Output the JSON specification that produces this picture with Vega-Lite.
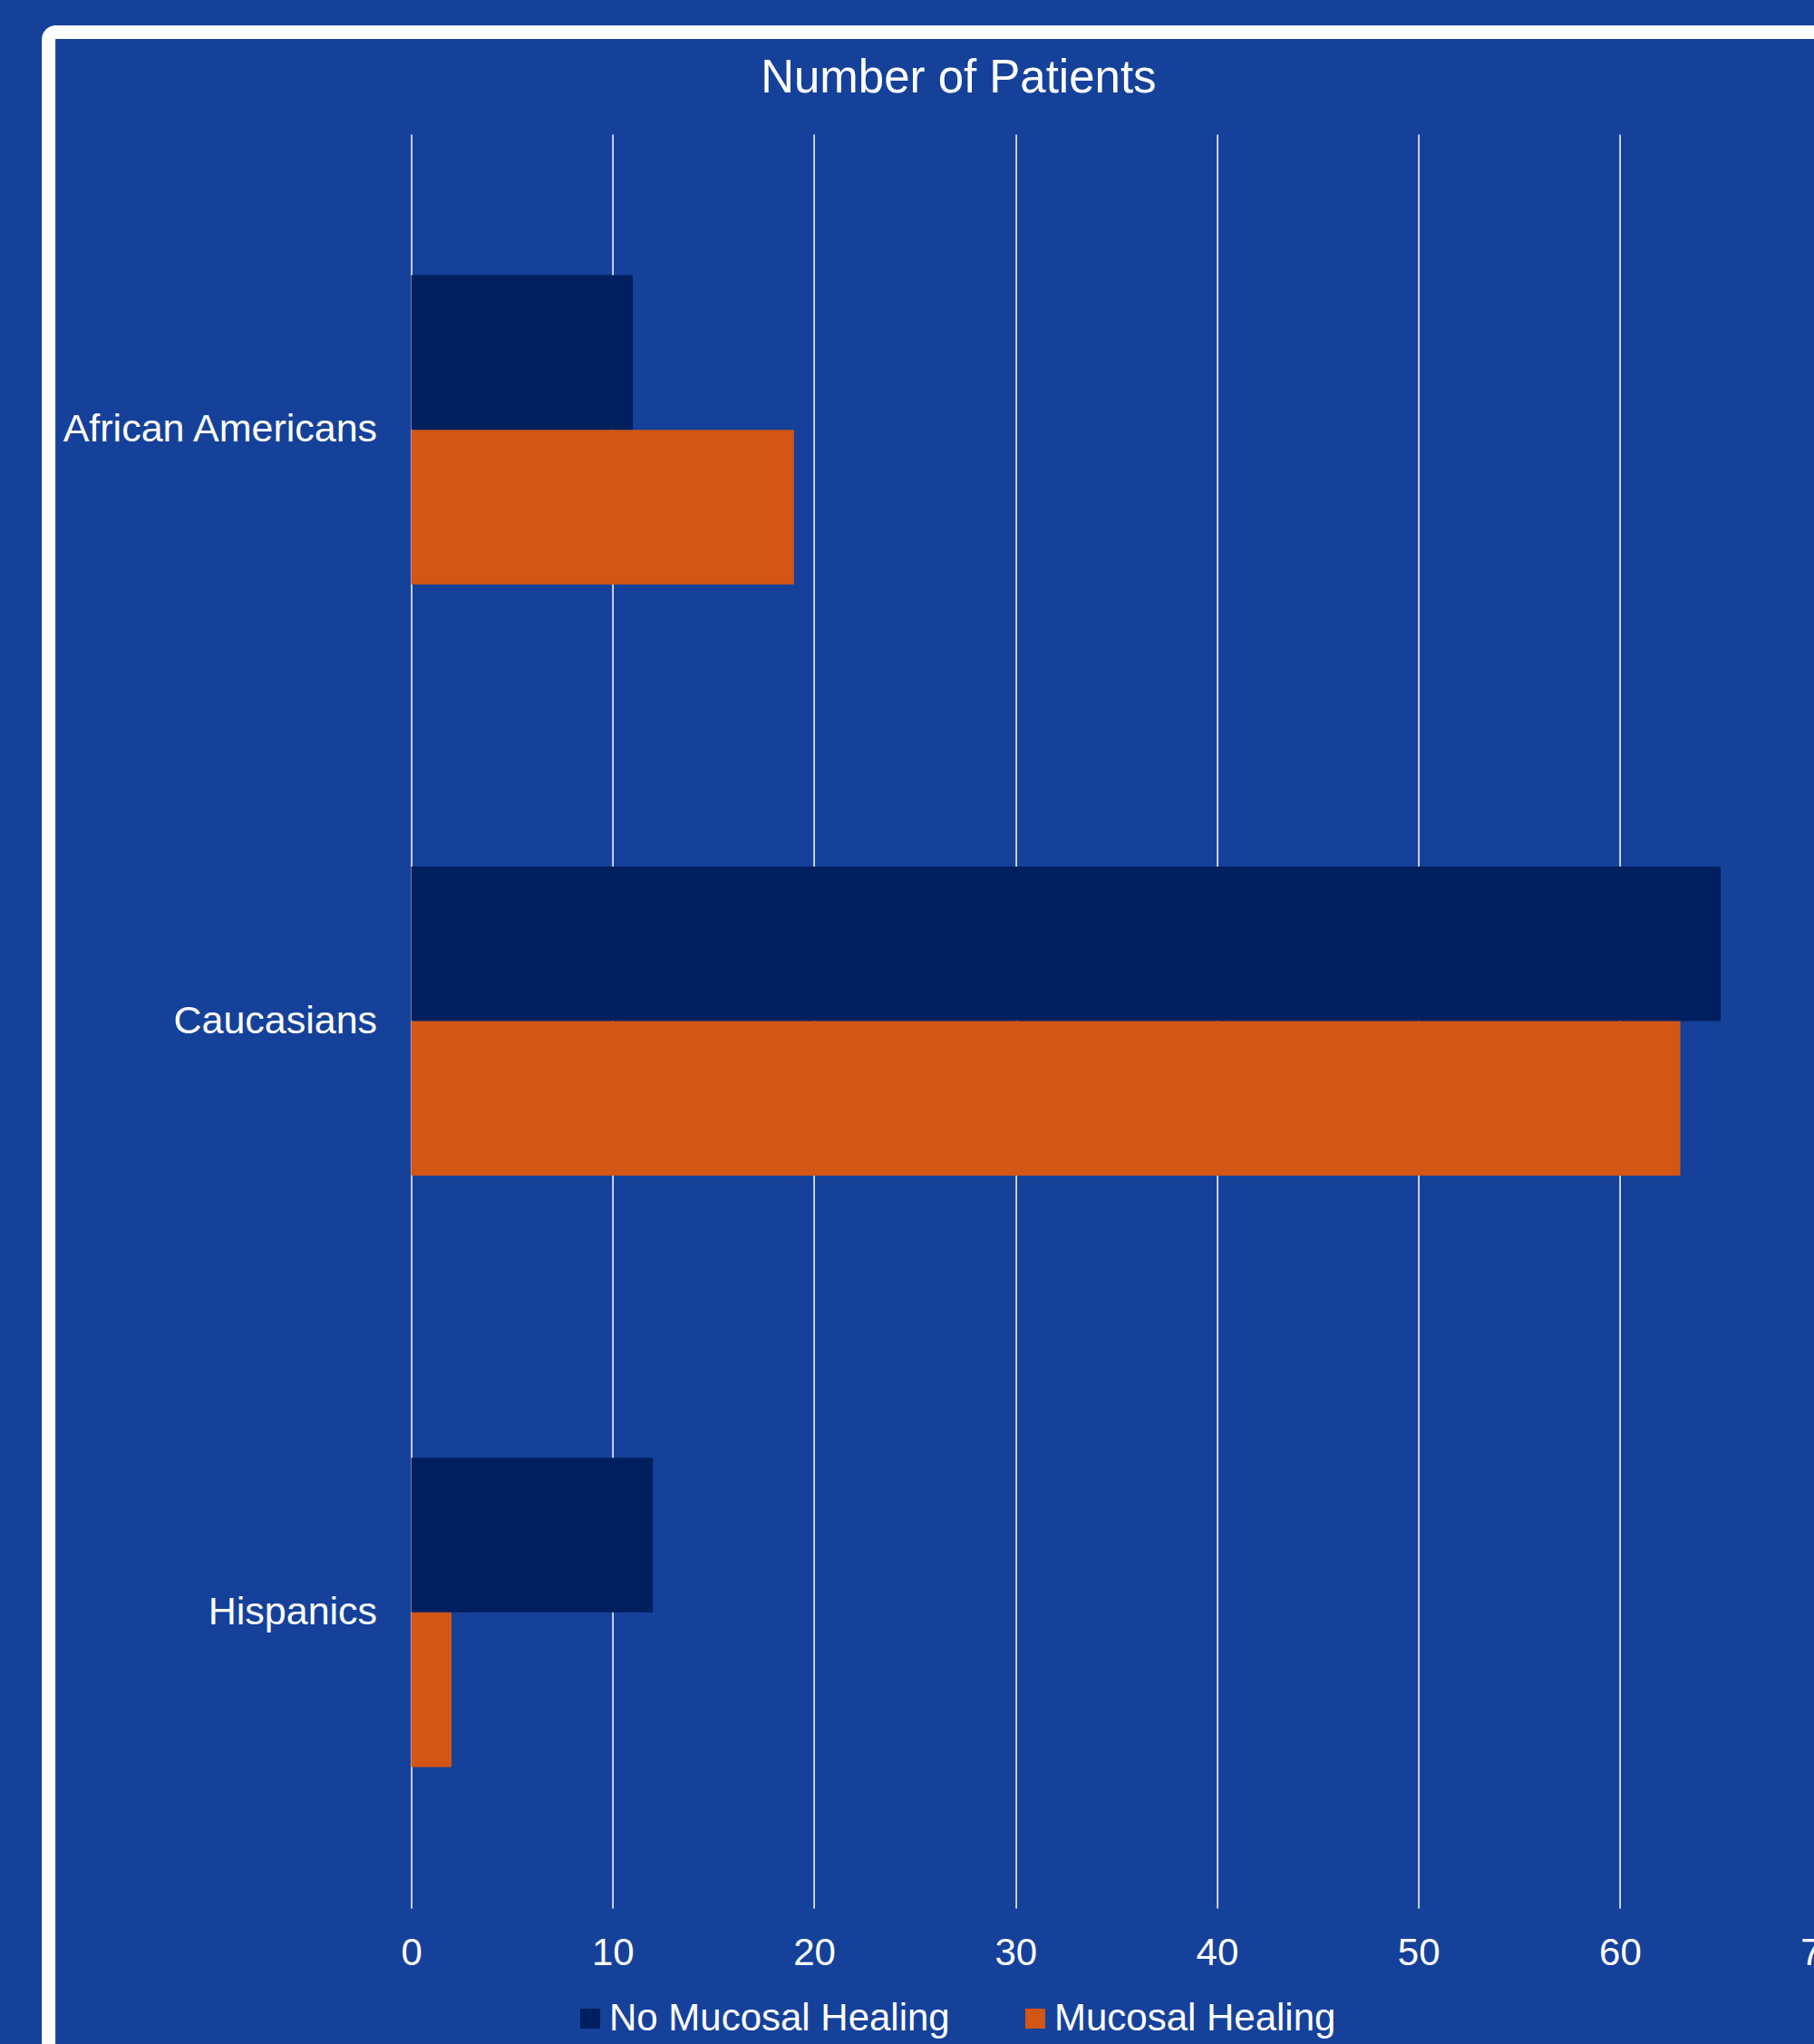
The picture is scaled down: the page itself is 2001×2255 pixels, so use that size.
{
  "$schema": "https://vega.github.io/schema/vega-lite/v6.json",
  "width": 1555.5,
  "height": 1957,
  "autosize": "none",
  "padding": {"left": 453.6, "top": 148, "right": 0, "bottom": 150},
  "background": "#15419A",
  "config": {"view": {"stroke": null}, "font": "Liberation Sans"},
  "title": {
    "text": "Number of Patients",
    "fontSize": 51,
    "fontWeight": "normal",
    "color": "white",
    "font": "Liberation Sans",
    "anchor": "middle",
    "frame": "group",
    "dx": -174,
    "offset": -85
  },
  "datasets": {
    "patients": [
      {"Group": "African Americans", "Status": "No Mucosal Healing", "Count": 11},
      {"Group": "African Americans", "Status": "Mucosal Healing", "Count": 19},
      {"Group": "Caucasians", "Status": "No Mucosal Healing", "Count": 65},
      {"Group": "Caucasians", "Status": "Mucosal Healing", "Count": 63},
      {"Group": "Hispanics", "Status": "No Mucosal Healing", "Count": 12},
      {"Group": "Hispanics", "Status": "Mucosal Healing", "Count": 2}
    ]
  },
  "layer": [
    {
      "data": {"values": [{}]},
      "mark": {"type": "rect", "filled": false, "stroke": "white", "strokeWidth": 15, "cornerRadius": 8, "clip": false},
      "encoding": {
        "x": {"datum": -18.0, "type": "quantitative", "scale": {"domain": [0, 70], "nice": false}},
        "x2": {"datum": 100},
        "y": {"datum": 1.0575, "type": "quantitative", "scale": {"domain": [0, 1], "nice": false}, "axis": null},
        "y2": {"datum": -0.2}
      }
    },
    {
      "data": {"name": "patients"},
      "mark": {"type": "bar"},
      "encoding": {
        "y": {
          "field": "Group",
          "type": "nominal",
          "sort": ["African Americans", "Caucasians", "Hispanics"],
          "scale": {"paddingInner": 0.477, "paddingOuter": 0.2385},
          "axis": {
            "title": null,
            "labelFontSize": 43,
            "labelColor": "white",
            "labelFont": "Liberation Sans",
            "labelPadding": 38,
            "labelLimit": 1000,
            "ticks": false,
            "domain": false,
            "grid": false
          }
        },
        "yOffset": {
          "field": "Status",
          "type": "nominal",
          "sort": ["No Mucosal Healing", "Mucosal Healing"],
          "scale": {"paddingInner": 0, "paddingOuter": 0}
        },
        "x": {
          "field": "Count",
          "type": "quantitative",
          "scale": {"domain": [0, 70], "nice": false},
          "axis": {
            "title": null,
            "values": [0, 10, 20, 30, 40, 50, 60, 70],
            "labelFontSize": 42,
            "labelColor": "white",
            "labelFont": "Liberation Sans",
            "labelPadding": 30,
            "labelFlush": false,
            "labelOverlap": false,
            "labelBound": false,
            "ticks": false,
            "domain": false,
            "grid": true,
            "gridColor": "white",
            "gridWidth": 1.5,
            "gridOpacity": 1
          }
        },
        "color": {
          "field": "Status",
          "type": "nominal",
          "scale": {"domain": ["No Mucosal Healing", "Mucosal Healing"], "range": ["#001F5E", "#D35614"]},
          "legend": {
            "orient": "none",
            "legendX": 176.4,
            "legendY": 2058,
            "direction": "horizontal",
            "title": null,
            "symbolType": "square",
            "symbolSize": 484,
            "symbolStrokeWidth": 0,
            "symbolOpacity": 1,
            "labelFontSize": 42,
            "labelColor": "white",
            "labelFont": "Liberation Sans",
            "labelOffset": 0,
            "columnPadding": 73,
            "padding": 0,
            "labelLimit": 1000
          }
        }
      }
    }
  ],
  "resolve": {"scale": {"y": "independent"}, "axis": {"y": "independent"}}
}
